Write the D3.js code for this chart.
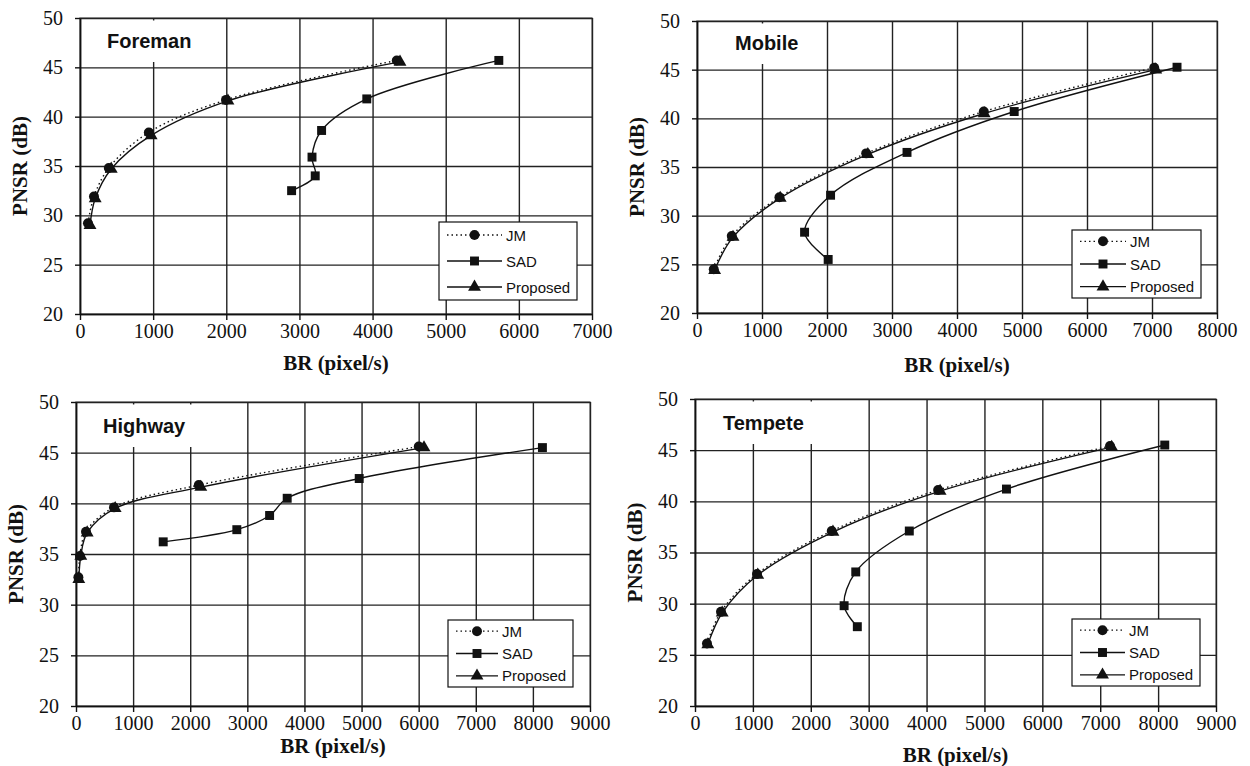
<!DOCTYPE html>
<html>
<head>
<meta charset="utf-8">
<script src="https://cdn.jsdelivr.net/npm/d3@7"></script>
<style>
  body { margin: 0; background: #fff; }
  svg { display: block; }
</style>
</head>
<body>
<svg id="chart" width="1250" height="766"></svg>
<script>
'use strict';

// Data (BR in pixel/s, PSNR in dB)
let seriesNames = ['JM', 'SAD', 'Proposed'];
let yTicks = [20, 25, 30, 35, 40, 45, 50];

let foremanJM = [[109, 29.2], [191, 31.9], [394, 34.8], [941, 38.4], [1996, 41.7], [4331, 45.7]];
let foremanSAD = [[2893, 32.5], [3216, 34.0], [3172, 35.9], [3303, 38.6], [3921, 41.8], [5726, 45.7]];
let foremanProp = [[137, 29.0], [208, 31.7], [427, 34.7], [973, 38.1], [2023, 41.6], [4375, 45.55]];

let mobileJM = [[258, 24.5], [535, 27.9], [1268, 31.9], [2603, 36.4], [4412, 40.7], [7034, 45.2]];
let mobileSAD = [[2018, 25.5], [1655, 28.3], [2055, 32.1], [3231, 36.5], [4880, 40.7], [7385, 45.25]];
let mobileProp = [[271, 24.4], [554, 27.8], [1280, 31.8], [2628, 36.3], [4418, 40.5], [7058, 45.0]];

let highwayJM = [[42, 32.7], [70, 34.8], [175, 37.2], [665, 39.6], [2150, 41.8], [6002, 45.6]];
let highwaySAD = [[1527, 36.2], [2816, 37.4], [3390, 38.8], [3698, 40.5], [4959, 42.45], [8167, 45.5]];
let highwayProp = [[49, 32.5], [84, 34.8], [196, 37.1], [686, 39.5], [2185, 41.6], [6093, 45.5]];

let tempeteJM = [[207, 26.1], [449, 29.2], [1071, 32.9], [2362, 37.1], [4200, 41.1], [7169, 45.4]];
let tempeteSAD = [[2804, 27.75], [2576, 29.8], [2777, 33.1], [3702, 37.1], [5380, 41.2], [8115, 45.5]];
let tempeteProp = [[221, 26.0], [470, 29.1], [1084, 32.8], [2383, 37.0], [4234, 41.0], [7197, 45.3]];

// Layout of the four panels
let panels = [
  { name: 'Foreman', series: [foremanJM, foremanSAD, foremanProp], xMax: 7000,
    plot: { l: 80, t: 18, r: 592, b: 314 }, legend: { x: 439, y: 222, w: 138, h: 78 },
    titleX: 107, titleY: 48, xTitleY: 370 },
  { name: 'Mobile', series: [mobileJM, mobileSAD, mobileProp], xMax: 8000,
    plot: { l: 697, t: 21, r: 1217, b: 313 }, legend: { x: 1072, y: 230, w: 129, h: 68 },
    titleX: 735, titleY: 50, xTitleY: 372 },
  { name: 'Highway', series: [highwayJM, highwaySAD, highwayProp], xMax: 9000,
    plot: { l: 76, t: 402, r: 590, b: 706 }, legend: { x: 448, y: 620, w: 125, h: 67 },
    titleX: 103, titleY: 433, xTitleY: 753 },
  { name: 'Tempete', series: [tempeteJM, tempeteSAD, tempeteProp], xMax: 9000,
    plot: { l: 695, t: 399, r: 1216, b: 706 }, legend: { x: 1072, y: 619, w: 128, h: 67 },
    titleX: 723, titleY: 430, xTitleY: 762 },
];

let ink = '#111';
let gridColor = '#222';
let serifFont = 'Liberation Serif';
let sansFont = 'Liberation Sans';
let symbols = [d3.symbolCircle, d3.symbolSquare, d3.symbolTriangle];
let symbolSizes = [78, 80, 72];
let dashes = ['1.5,3', null, null];

let svg = d3.select('#chart');

function drawPanel(p) {
  let g = svg.append('g').attr('class', 'panel');
  let w = p.plot.r - p.plot.l;
  let h = p.plot.b - p.plot.t;

  let xScale = d3.scaleLinear().domain([0, p.xMax]).range([p.plot.l, p.plot.r]);
  let yScale = d3.scaleLinear().domain([20, 50]).range([p.plot.b, p.plot.t]);
  let xTicks = d3.range(0, p.xMax + 1, 1000);

  // plot frame (top/right in grey like the original)
  g.append('rect')
    .attr('x', p.plot.l).attr('y', p.plot.t)
    .attr('width', w).attr('height', h)
    .attr('fill', '#fff').attr('stroke', '#8a8a8a').attr('stroke-width', 1.5);

  // grid
  g.append('g')
    .attr('transform', `translate(0,${p.plot.b})`)
    .call(d3.axisBottom(xScale).tickValues(xTicks).tickSize(-h).tickFormat(''))
    .call(a => a.select('.domain').remove())
    .call(a => a.selectAll('line').attr('stroke', gridColor).attr('stroke-width', 1.4));
  g.append('g')
    .attr('transform', `translate(${p.plot.l},0)`)
    .call(d3.axisLeft(yScale).tickValues(yTicks).tickSize(-w).tickFormat(''))
    .call(a => a.select('.domain').remove())
    .call(a => a.selectAll('line').attr('stroke', gridColor).attr('stroke-width', 1.4));

  // title with its white box that hides the grid behind it
  let title = g.append('text')
    .attr('class', 'panelTitle')
    .attr('font-family', sansFont).attr('font-size', 20).attr('font-weight', 'bold')
    .attr('fill', ink)
    .attr('x', p.titleX).attr('y', p.titleY)
    .text(p.name);
  let bb = title.node().getBBox();
  g.insert('rect', '.panelTitle')
    .attr('x', bb.x - 18).attr('y', p.plot.t + 2.5)
    .attr('width', bb.width + 36).attr('height', bb.y + bb.height + 10 - (p.plot.t + 2.5))
    .attr('fill', '#fff');

  // axes
  g.append('g')
    .attr('font-family', serifFont).attr('font-size', 20)
    .attr('transform', `translate(0,${p.plot.b})`)
    .call(d3.axisBottom(xScale).tickValues(xTicks).tickFormat(d3.format('d'))
      .tickSize(6).tickPadding(4).tickSizeOuter(0))
    .attr('font-family', serifFont).attr('font-size', 20)
    .call(a => a.select('.domain').attr('stroke', ink).attr('stroke-width', 1.6))
    .call(a => a.selectAll('line').attr('stroke', ink).attr('stroke-width', 1.4))
    .call(a => a.selectAll('text').attr('fill', ink));
  g.append('g')
    .attr('transform', `translate(${p.plot.l},0)`)
    .call(d3.axisLeft(yScale).tickValues(yTicks).tickSize(5).tickPadding(12).tickSizeOuter(0))
    .attr('font-family', serifFont).attr('font-size', 20)
    .call(a => a.select('.domain').attr('stroke', ink).attr('stroke-width', 1.6))
    .call(a => a.selectAll('line').attr('stroke', ink).attr('stroke-width', 1.4))
    .call(a => a.selectAll('text').attr('fill', ink));

  g.append('text')
    .attr('font-family', serifFont).attr('font-size', 21).attr('font-weight', 'bold')
    .attr('fill', ink)
    .attr('text-anchor', 'middle')
    .attr('x', (p.plot.l + p.plot.r) / 2).attr('y', p.xTitleY)
    .text('BR (pixel/s)');
  g.append('text')
    .attr('font-family', serifFont).attr('font-size', 21).attr('font-weight', 'bold')
    .attr('fill', ink)
    .attr('text-anchor', 'middle')
    .attr('transform', `translate(${p.plot.l - 53},${(p.plot.t + p.plot.b) / 2}) rotate(-90)`)
    .text('PNSR (dB)');

  // series
  let line = d3.line()
    .x(d => xScale(d[0]))
    .y(d => yScale(d[1]))
    .curve(d3.curveCatmullRom.alpha(0.5));

  p.series.forEach((data, i) => {
    g.append('path')
      .datum(data)
      .attr('d', line)
      .attr('fill', 'none')
      .attr('stroke', ink)
      .attr('stroke-width', 1.4)
      .attr('stroke-dasharray', dashes[i]);
    g.selectAll(null)
      .data(data)
      .enter()
      .append('path')
      .attr('d', d3.symbol().type(symbols[i]).size(symbolSizes[i]))
      .attr('transform', d => `translate(${xScale(d[0])},${yScale(d[1])})`)
      .attr('fill', ink);
  });

  // legend
  let lg = g.append('g').attr('transform', `translate(${p.legend.x},${p.legend.y})`);
  lg.append('rect')
    .attr('width', p.legend.w).attr('height', p.legend.h)
    .attr('fill', '#fff').attr('stroke', ink).attr('stroke-width', 1.2);
  let textX = p.legend.w - 71;
  let lineX0 = 8;
  let lineX1 = textX - 4;
  seriesNames.forEach((name, i) => {
    let ry = p.legend.h * (i + 0.5) / 3;
    lg.append('line')
      .attr('x1', lineX0).attr('x2', lineX1)
      .attr('y1', ry).attr('y2', ry)
      .attr('stroke', ink).attr('stroke-width', 1.3)
      .attr('stroke-dasharray', dashes[i]);
    lg.append('path')
      .attr('d', d3.symbol().type(symbols[i]).size(symbolSizes[i]))
      .attr('transform', `translate(${(lineX0 + lineX1) / 2},${ry})`)
      .attr('fill', ink);
    lg.append('text')
      .attr('font-family', sansFont).attr('font-size', 15).attr('fill', ink)
      .attr('x', textX).attr('y', ry + 5.5)
      .text(name);
  });
}

panels.forEach(drawPanel);
</script>
</body>
</html>
